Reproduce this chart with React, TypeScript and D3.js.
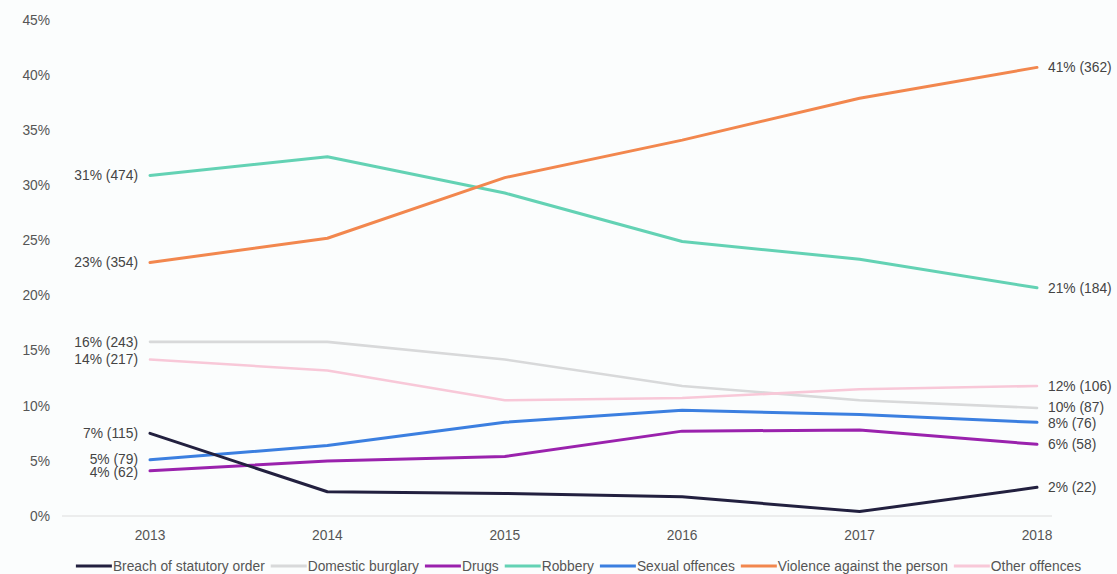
import React, { useEffect, useRef } from "react";
import * as d3 from "d3";

const years = ["2013", "2014", "2015", "2016", "2017", "2018"];
const yTicks = [0, 5, 10, 15, 20, 25, 30, 35, 40, 45];

const seriesNames = [
  "Breach of statutory order",
  "Domestic burglary",
  "Drugs",
  "Robbery",
  "Sexual offences",
  "Violence against the person",
  "Other offences",
];
const seriesColors = ["#22203f", "#d8d9da", "#9a22ad", "#63d2b4", "#3b7fe0", "#f2874e", "#f8c8d8"];

const breach = [7.5, 2.2, 2.05, 1.75, 0.4, 2.6];
const burglary = [15.8, 15.8, 14.2, 11.8, 10.5, 9.8];
const drugs = [4.1, 5.0, 5.4, 7.7, 7.8, 6.5];
const robbery = [30.9, 32.6, 29.3, 24.9, 23.3, 20.7];
const sexual = [5.1, 6.4, 8.5, 9.6, 9.2, 8.5];
const violence = [23.0, 25.2, 30.7, 34.1, 37.9, 40.7];
const other = [14.2, 13.2, 10.5, 10.7, 11.5, 11.8];
const seriesValues = [breach, burglary, drugs, robbery, sexual, violence, other];

const startLabels = ["7% (115)", "16% (243)", "4% (62)", "31% (474)", "5% (79)", "23% (354)", "14% (217)"];
const endLabels = ["2% (22)", "10% (87)", "6% (58)", "21% (184)", "8% (76)", "41% (362)", "12% (106)"];

const W = 1117;
const H = 574;
const FONT = "'Liberation Sans', Arial, Helvetica, sans-serif";
const FS = 13.8;

export default function App() {
  const ref = useRef<SVGSVGElement>(null);

  useEffect(() => {
    const svg = d3.select(ref.current);
    svg.selectAll("*").remove();

    const x = d3.scalePoint<string>().domain(years).range([150, 1037]);
    const y = d3.scaleLinear().domain([0, 45]).range([516, 20]);

    svg.append("rect").attr("width", W).attr("height", H).attr("fill", "#fbfdfd");

    svg
      .append("g")
      .selectAll("text")
      .data(yTicks)
      .join("text")
      .attr("x", 50)
      .attr("y", (d) => y(d))
      .attr("dy", "0.35em")
      .attr("text-anchor", "end")
      .attr("font-family", FONT)
      .attr("font-size", FS)
      .attr("fill", "#555")
      .text((d) => d + "%");

    svg
      .append("line")
      .attr("x1", 62)
      .attr("x2", 1052)
      .attr("y1", y(0))
      .attr("y2", y(0))
      .attr("stroke", "#dddddd")
      .attr("stroke-width", 1);

    svg
      .append("g")
      .selectAll("text")
      .data(years)
      .join("text")
      .attr("x", (d) => x(d)!)
      .attr("y", 535)
      .attr("dy", "0.35em")
      .attr("text-anchor", "middle")
      .attr("font-family", FONT)
      .attr("font-size", FS)
      .attr("fill", "#555")
      .text((d) => d);

    const line = d3
      .line<number>()
      .x((_, i) => x(years[i])!)
      .y((d) => y(d));

    const drawOrder = [1, 6, 3, 5, 4, 2, 0];
    drawOrder.forEach((si) => {
      svg
        .append("path")
        .attr("d", line(seriesValues[si])!)
        .attr("fill", "none")
        .attr("stroke", seriesColors[si])
        .attr("stroke-width", si === 1 || si === 6 ? 2.6 : 3)
        .attr("stroke-linejoin", "round")
        .attr("stroke-linecap", "round");
    });

    const startNudge = [0, 0, 1.5, 0, -1, 0, 0];
    const endNudge = [0, -1, 0, 0, 1, 0, 0];
    seriesValues.forEach((vals, si) => {
      svg
        .append("text")
        .attr("x", 138)
        .attr("y", y(vals[0]) + startNudge[si])
        .attr("dy", "0.35em")
        .attr("text-anchor", "end")
        .attr("font-family", FONT)
        .attr("font-size", FS)
        .attr("fill", "#444")
        .text(startLabels[si]);
      svg
        .append("text")
        .attr("x", 1048)
        .attr("y", y(vals[vals.length - 1]) + endNudge[si])
        .attr("dy", "0.35em")
        .attr("text-anchor", "start")
        .attr("font-family", FONT)
        .attr("font-size", FS)
        .attr("fill", "#444")
        .text(endLabels[si]);
    });

    const lg = svg.append("g");
    const swW = 36;
    let cx = 0;
    seriesNames.forEach((name, i) => {
      const g = lg.append("g");
      g.append("line")
        .attr("x1", 0)
        .attr("x2", swW)
        .attr("y1", 0)
        .attr("y2", 0)
        .attr("stroke", seriesColors[i])
        .attr("stroke-width", 3);
      const t = g
        .append("text")
        .attr("x", swW + 1)
        .attr("y", 0)
        .attr("dy", "0.35em")
        .attr("font-family", FONT)
        .attr("font-size", FS)
        .attr("fill", "#555")
        .text(name);
      const tw = (t.node() as SVGTextElement).getComputedTextLength();
      g.attr("transform", `translate(${cx},0)`);
      cx += swW + 1 + tw + 6;
    });
    const total = cx - 6;
    lg.attr("transform", `translate(${578.5 - total / 2},566)`);
  }, []);

  return (
    <svg
      ref={ref}
      width={W}
      height={H}
      style={{ position: "absolute", left: 0, top: 0, display: "block" }}
    />
  );
}
